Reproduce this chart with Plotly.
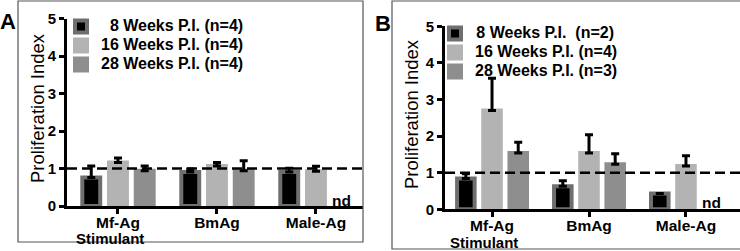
import plotly.graph_objects as go

categories = ["Mf-Ag", "BmAg", "Male-Ag"]
series_names_a = ["\u20078 Weeks P.I. (n=4)", "16 Weeks P.I. (n=4)", "28 Weeks P.I. (n=4)"]
series_names_b = ["\u200a8 Weeks P.I.\u00a0\u00a0(n=2)", "16 Weeks P.I. (n=4)", "28 Weeks P.I. (n=3)"]

a_8wk = [0.76, 0.91, 0.91]
a_8wk_err = [0.31, 0.08, 0.10]
a_16wk = [1.16, 1.07, 0.93]
a_16wk_err = [0.12, 0.09, 0.13]
a_28wk = [0.94, 0.94, None]
a_28wk_err = [0.13, 0.27, None]

b_8wk = [0.84, 0.63, 0.43]
b_8wk_err = [0.13, 0.15, None]
b_16wk = [2.70, 1.54, 1.18]
b_16wk_err = [0.88, 0.50, 0.28]
b_28wk = [1.54, 1.23, None]
b_28wk_err = [0.29, 0.29, None]

y_ticks = [0, 1, 2, 3, 4, 5]

W, H = 740, 251
FONT = "Liberation Sans, Arial, sans-serif"

fill_colors = ["#000000", "#b3b3b3", "#8e8e8e"]
line_colors = ["#6f6f6f", "#b3b3b3", "#8e8e8e"]

fig = go.Figure()

def add_panel(vals, errs, names, xa, ya, leg):
    for i in range(3):
        fig.add_trace(go.Bar(
            x=categories, y=vals[i],
            name='<span style="font-size:16px"><b>' + names[i] + '</b></span>',
            xaxis=xa, yaxis=ya, legend=leg,
            marker=dict(color=fill_colors[i], line=dict(color=line_colors[i], width=4)),
            error_y=dict(type="data", symmetric=False, array=errs[i],
                         arrayminus=[0 if e is not None else None for e in errs[i]],
                         color="black", thickness=3, width=4),
        ))

add_panel([a_8wk, a_16wk, a_28wk], [a_8wk_err, a_16wk_err, a_28wk_err], series_names_a, "x", "y", "legend")
add_panel([b_8wk, b_16wk, b_28wk], [b_8wk_err, b_16wk_err, b_28wk_err], series_names_b, "x2", "y2", "legend2")

def px_x(v):
    return v / W

def px_y(v):
    return (H - v) / H

tickfont = dict(family=FONT, size=15, color="black")
xfont = dict(family=FONT, size=15.5, color="black")
titlefont = dict(family=FONT, size=18.5, color="black")

common_x = dict(type="category", showline=True, linewidth=3, linecolor="black",
                ticks="outside", ticklen=5, tickwidth=3, tickcolor="black",
                tickvals=categories, ticktext=["<b>" + c + "</b>" for c in categories],
                tickfont=xfont, showgrid=False, zeroline=False, automargin=False,
                ticklabelstandoff=-5)
common_y = dict(range=[0, 5], tickvals=y_ticks, ticktext=["<b>%d</b>" % t for t in y_ticks],
                showline=True, linewidth=3, linecolor="black",
                ticks="outside", ticklen=5, tickwidth=3, tickcolor="black",
                tickfont=tickfont, showgrid=False, zeroline=False, automargin=False)

fig.update_layout(
    width=W, height=H,
    margin=dict(l=0, r=0, t=0, b=0, autoexpand=False),
    paper_bgcolor="white", plot_bgcolor="white",
    barmode="group", bargap=0.19, bargroupgap=0.33,
    showlegend=True,
    xaxis=dict(domain=[px_x(67), px_x(363)], range=[-0.515, 2.475], anchor="y", **common_x),
    yaxis=dict(domain=[px_y(206), px_y(18.5)], anchor="x", **common_y),
    xaxis2=dict(domain=[px_x(445), 1.0], range=[-0.485, 2.557], anchor="y2", **common_x),
    yaxis2=dict(domain=[px_y(209.3), px_y(26.3)], anchor="x2", **common_y),
    legend=dict(x=px_x(61), y=px_y(12), xanchor="left", yanchor="top",
                bgcolor="rgba(0,0,0,0)", font=dict(family=FONT, size=12.3, color="black"),
                tracegroupgap=0, itemclick=False),
    legend2=dict(x=px_x(435), y=px_y(19), xanchor="left", yanchor="top",
                 bgcolor="rgba(0,0,0,0)", font=dict(family=FONT, size=12.3, color="black"),
                 tracegroupgap=0, itemclick=False),
)

shapes = [
    dict(type="rect", xref="paper", yref="paper", x0=px_x(18), x1=px_x(363), y0=px_y(242), y1=px_y(1),
         line=dict(color="#555555", width=1.2)),
    dict(type="rect", xref="paper", yref="paper", x0=px_x(392), x1=px_x(741), y0=px_y(249), y1=px_y(1),
         line=dict(color="#555555", width=1.2)),
    dict(type="line", xref="x domain", yref="y", x0=0, x1=1, y0=1, y1=1,
         line=dict(color="black", width=2.5, dash="10px,5px"), layer="above"),
    dict(type="line", xref="x2 domain", yref="y2", x0=0, x1=1, y0=1, y1=1,
         line=dict(color="black", width=2.5, dash="10px,5px"), layer="above"),
]
fig.update_layout(shapes=shapes)

ann_font = dict(family=FONT, size=15, color="black")
annotations = [
    dict(text="<b>A</b>", xref="paper", yref="paper", x=px_x(8), y=px_y(21), showarrow=False,
         xanchor="center", yanchor="middle", font=dict(family=FONT, size=22, color="black")),
    dict(text="<b>B</b>", xref="paper", yref="paper", x=px_x(383), y=px_y(23), showarrow=False,
         xanchor="center", yanchor="middle", font=dict(family=FONT, size=22, color="black")),
    dict(text="Proliferation Index", xref="paper", yref="paper", x=px_x(38), y=px_y(108),
         textangle=-90, showarrow=False, xanchor="center", yanchor="middle", font=titlefont),
    dict(text="Proliferation Index", xref="paper", yref="paper", x=px_x(411), y=px_y(114),
         textangle=-90, showarrow=False, xanchor="center", yanchor="middle", font=titlefont),
    dict(text="<b>Stimulant</b>", xref="paper", yref="paper", x=px_x(110), y=px_y(238.5), showarrow=False,
         xanchor="center", yanchor="middle", font=ann_font),
    dict(text="<b>Stimulant</b>", xref="paper", yref="paper", x=px_x(484), y=px_y(242), showarrow=False,
         xanchor="center", yanchor="middle", font=ann_font),
    dict(text="<b>nd</b>", xref="x", yref="paper", x=2, xshift=26, y=px_y(200), showarrow=False,
         xanchor="center", yanchor="middle", font=dict(family=FONT, size=15.5, color="black")),
    dict(text="<b>nd</b>", xref="x2", yref="paper", x=2, xshift=26, y=px_y(202), showarrow=False,
         xanchor="center", yanchor="middle", font=dict(family=FONT, size=15.5, color="black")),
]
fig.update_layout(annotations=annotations)

fig.write_html("out.html", config={"displayModeBar": False},
               post_script="document.body.style.margin='0';")
